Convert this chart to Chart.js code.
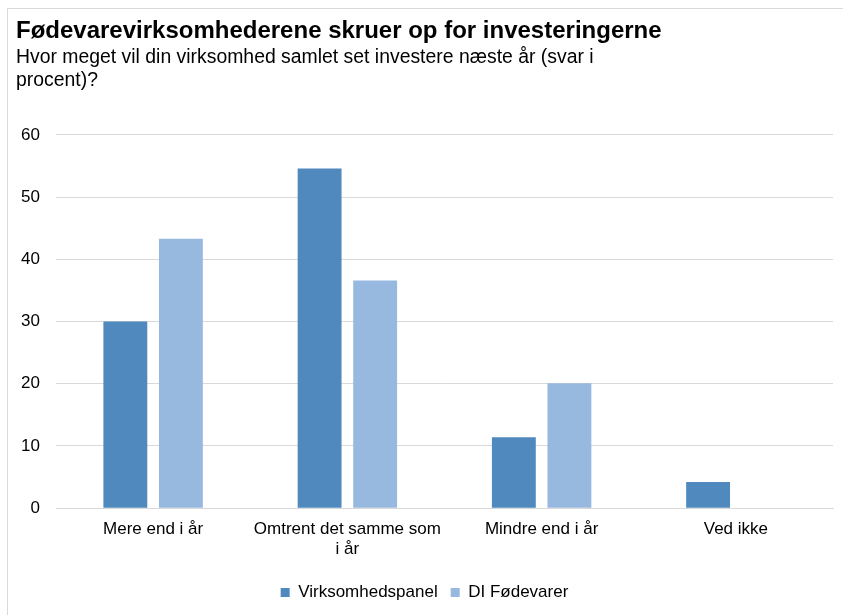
<!DOCTYPE html>
<html>
<head>
<meta charset="utf-8">
<script src="https://cdn.jsdelivr.net/npm/chart.js@4"></script>
<style>
  body { margin: 0; background: #fff; }
  #frame { position: absolute; left: 7px; top: 8px; width: 900px; height: 700px; border: 1px solid #d9d9d9; }
  #wrap { position: absolute; left: 0; top: 0; width: 843px; height: 615px; }
</style>
</head>
<body>
<div id="frame"></div>
<div id="wrap"><canvas id="chart"></canvas></div>
<script>
// Kategorier og værdier (procent)
const categories = [
    'Mere end i år',
    ['Omtrent det samme som', 'i år'],
    'Mindre end i år',
    'Ved ikke'
];
const virksomhedspanel = [30.0, 54.6, 11.4, 4.2];
const diFoedevarer = [43.3, 36.6, 20.1, 0];
const yTicks = [0, 10, 20, 30, 40, 50, 60];

const FONT = 'Liberation Sans, Arial, sans-serif';

const ctx = document.getElementById('chart').getContext('2d');
new Chart(ctx, {
    type: 'bar',
    data: {
        labels: categories,
        datasets: [
            {
                label: 'Virksomhedspanel',
                data: virksomhedspanel,
                backgroundColor: '#4f89bd',
                categoryPercentage: 0.572,
                barPercentage: 0.79
            },
            {
                label: 'DI Fødevarer',
                data: diFoedevarer,
                backgroundColor: '#98b9df',
                categoryPercentage: 0.572,
                barPercentage: 0.79
            }
        ]
    },
    options: {
        responsive: true,
        maintainAspectRatio: false,
        animation: false,
        layout: { padding: { left: 16, right: 10, top: 17, bottom: 4 } },
        scales: {
            x: {
                grid: { display: false, drawTicks: false },
                border: { display: true, color: '#d9d9d9', width: 1 },
                ticks: { color: '#000', font: { family: FONT, size: 17, lineHeight: 1.2 }, padding: 11, maxRotation: 0 }
            },
            y: {
                min: 0,
                max: 60,
                afterFit: (scale) => { scale.width = 40; },
                afterBuildTicks: (scale) => { scale.ticks = yTicks.map(v => ({ value: v })); },
                grid: { color: '#d9d9d9', drawTicks: false },
                border: { display: false },
                ticks: { color: '#000', font: { family: FONT, size: 17 }, padding: 16 }
            }
        },
        plugins: {
            title: {
                display: true,
                text: 'Fødevarevirksomhederene skruer op for investeringerne',
                align: 'start',
                color: '#000',
                font: { family: FONT, size: 24, weight: 'bold', lineHeight: 1.2 },
                padding: { top: 0, bottom: 0 }
            },
            subtitle: {
                display: true,
                text: ['Hvor meget vil din virksomhed samlet set investere næste år (svar i', 'procent)?'],
                align: 'start',
                color: '#000',
                font: { family: FONT, size: 19.4, lineHeight: 1.19 },
                padding: { top: 0, bottom: 43 }
            },
            legend: {
                position: 'bottom',
                labels: {
                    color: '#000',
                    font: { family: FONT, size: 17 },
                    boxWidth: 9,
                    boxHeight: 9,
                    padding: 13
                }
            },
            tooltip: { enabled: false }
        }
    }
});
</script>
</body>
</html>
